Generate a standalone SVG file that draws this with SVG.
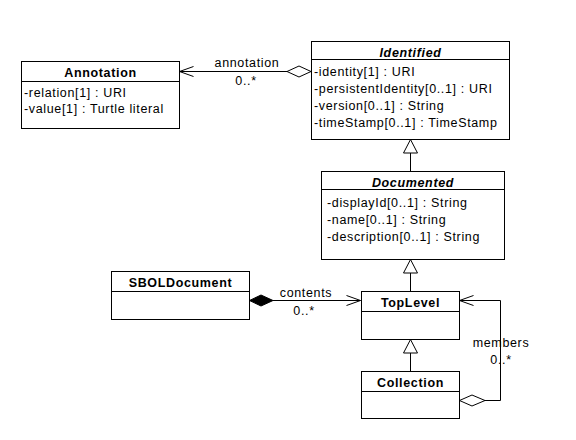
<svg xmlns="http://www.w3.org/2000/svg" width="576" height="440" viewBox="0 0 576 440">
<style>
.box{fill:#fff;stroke:#000;stroke-width:1}
.ln{fill:none;stroke:#000;stroke-width:1}
text{font-family:"Liberation Sans",Arial,sans-serif;font-size:12.5px;letter-spacing:0.65px;fill:#000}
.t{font-weight:bold;text-anchor:middle}
.ti{font-weight:bold;font-style:italic;text-anchor:middle}
.c{text-anchor:middle}
</style>
<rect width="576" height="440" fill="#fff"/>
<g id="connectors">
  <!-- annotation -->
  <line class="ln" x1="179.5" y1="71.5" x2="287" y2="71.5"/>
  <polyline class="ln" points="193.5,66.5 179.5,71.5 193.5,76.5"/>
  <polygon class="ln" fill="#fff" points="287,71.5 299,66 311,71.5 299,77"/>
  <text class="c" x="247" y="66.5">annotation</text>
  <text class="c" x="246" y="85">0..*</text>
  <!-- generalizations -->
  <line class="ln" x1="410.5" y1="153" x2="410.5" y2="171"/>
  <polygon class="ln" fill="#fff" points="410.5,139.5 403.5,153 417.5,153"/>
  <line class="ln" x1="410.5" y1="273" x2="410.5" y2="291"/>
  <polygon class="ln" fill="#fff" points="410.5,259.5 403.5,273 417.5,273"/>
  <line class="ln" x1="410.5" y1="353" x2="410.5" y2="371"/>
  <polygon class="ln" fill="#fff" points="410.5,339.5 403.5,353 417.5,353"/>
  <!-- contents -->
  <line class="ln" x1="273" y1="300.5" x2="360.5" y2="300.5"/>
  <polygon fill="#000" stroke="#000" points="249.5,300.5 261,295 273,300.5 261,306"/>
  <polyline class="ln" points="346.5,295.5 360.5,300.5 346.5,305.5"/>
  <text class="c" x="306" y="296.5">contents</text>
  <text class="c" x="304" y="315">0..*</text>
  <!-- members -->
  <polyline class="ln" points="485,400.5 500.5,400.5 500.5,300.5 459.5,300.5"/>
  <polyline class="ln" points="473.5,295.5 459.5,300.5 473.5,305.5"/>
  <polygon class="ln" fill="#fff" points="459.5,400.5 472,395 485,400.5 472,406"/>
  <text class="c" x="501" y="347">members</text>
  <text class="c" x="501" y="364">0..*</text>
</g>
<g id="Annotation">
  <rect class="box" x="21.5" y="61.5" width="158" height="67"/>
  <line class="ln" x1="21.5" y1="81.5" x2="179.5" y2="81.5"/>
  <text class="t" x="100.5" y="77">Annotation</text>
  <text x="24" y="96.5">-relation[1] : URI</text>
  <text x="24" y="112.5">-value[1] : Turtle literal</text>
</g>
<g id="Identified">
  <rect class="box" x="311.5" y="41.5" width="198" height="98"/>
  <line class="ln" x1="311.5" y1="59.5" x2="509.5" y2="59.5"/>
  <text class="ti" x="410.5" y="56.5">Identified</text>
  <text x="314" y="76">-identity[1] : URI</text>
  <text x="314" y="93">-persistentIdentity[0..1] : URI</text>
  <text x="314" y="110">-version[0..1] : String</text>
  <text x="314" y="127">-timeStamp[0..1] : TimeStamp</text>
</g>
<g id="Documented">
  <rect class="box" x="321.5" y="171.5" width="183" height="88"/>
  <line class="ln" x1="321.5" y1="189.5" x2="504.5" y2="189.5"/>
  <text class="ti" x="413" y="186.5">Documented</text>
  <text x="327" y="206.5">-displayId[0..1] : String</text>
  <text x="327" y="223.5">-name[0..1] : String</text>
  <text x="327" y="240.5">-description[0..1] : String</text>
</g>
<g id="SBOLDocument">
  <rect class="box" x="111.5" y="271.5" width="138" height="48"/>
  <line class="ln" x1="111.5" y1="291.5" x2="249.5" y2="291.5"/>
  <text class="t" x="180.5" y="287">SBOLDocument</text>
</g>
<g id="TopLevel">
  <rect class="box" x="361.5" y="291.5" width="98" height="48"/>
  <line class="ln" x1="361.5" y1="311.5" x2="459.5" y2="311.5"/>
  <text class="t" x="410.5" y="307">TopLevel</text>
</g>
<g id="Collection">
  <rect class="box" x="361.5" y="371.5" width="98" height="47"/>
  <line class="ln" x1="361.5" y1="391.5" x2="459.5" y2="391.5"/>
  <text class="t" x="410.5" y="387">Collection</text>
</g>
</svg>
